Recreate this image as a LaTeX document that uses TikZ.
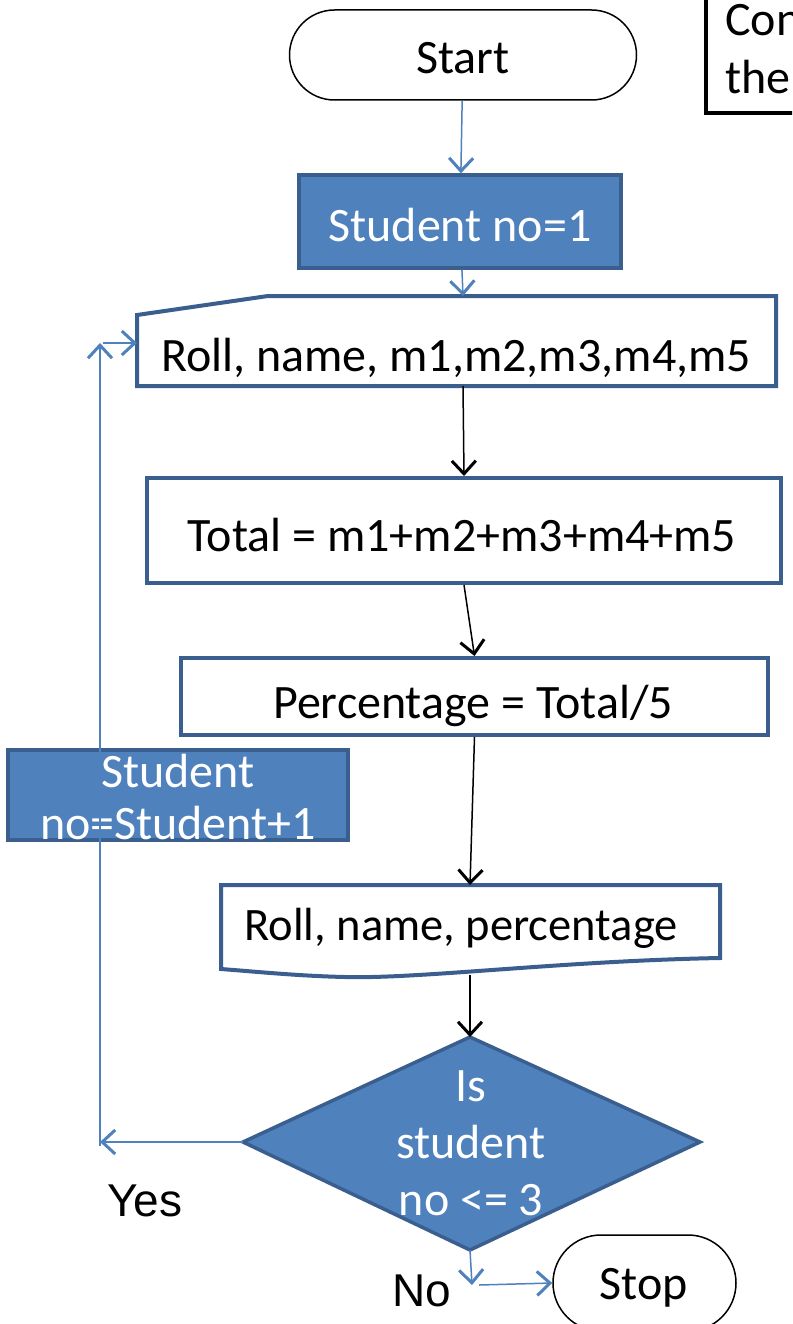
\documentclass[tikz,border=0pt]{standalone}
\usepackage{fontspec}
\setmainfont{Carlito}
\newfontfamily\arialfont{Liberation Sans}
\usetikzlibrary{arrows.meta,shapes.misc}
\definecolor{fillblue}{HTML}{4F81BD}
\definecolor{edgeblue}{HTML}{3A5F8E}
\definecolor{linkblue}{HTML}{4F81BD}
\begin{document}
\begin{tikzpicture}[x=1pt,y=-1pt,
  txt/.style={font=\fontsize{48}{57}\selectfont, inner sep=0pt, align=center, anchor=base},
  wtxt/.style={txt, text=white},
  terminal/.style={rounded rectangle, draw=black, line width=1.5pt, inner sep=0pt},
  plainbox/.style={draw=edgeblue, line width=4pt, fill=white, inner sep=0pt},
  bluebox/.style={draw=edgeblue, line width=3.5pt, fill=fillblue, inner sep=0pt},
  tipv/.style={-{Straight Barb[length=13pt,width=24pt,line width=3pt]}},
  bluelink/.style={tipv, draw=linkblue, line width=1.5pt},
  blacklink/.style={tipv, draw=black, line width=1.5pt},
  lbl/.style={font=\arialfont\fontsize{46}{50}\selectfont, inner sep=0pt, anchor=base}]
\clip (0,0) rectangle (792,1324);
\fill[white] (0,0) rectangle (792,1324);

% note box at the top right
\draw[black, line width=4pt] (706,-10) -- (706,113) -- (800,113);
\node[txt, anchor=base west] (noteA) at (725,36) {Con};
\node[txt, anchor=base west] (noteB) at (725,94) {the};

% start
\node[terminal, minimum width=347pt, minimum height=90pt] (start) at (463,55) {};
\node[txt] (startT) at (463,74) {Start};

% initialise counter
\node[bluebox, minimum width=322pt, minimum height=93pt] (init) at (460,221.5) {};
\node[wtxt] (initT) at (460,241) {Student no=1};

% manual input
\draw[plainbox] (137,315) -- (268,296) -- (776,296) -- (776,386) -- (137,386) -- cycle;
\node[txt] (inp) at (456,371) {Roll, name, m1,m2,m3,m4,m5};
\coordinate (inpN) at (463,296);
\coordinate (inpS) at (463,386);
\coordinate (inpW) at (137,343);

% processing
\node[plainbox, minimum width=634pt, minimum height=105pt] (tot) at (464,530.5) {};
\node[txt] (totT) at (462,551) {Total = m1+m2+m3+m4+m5};
\node[plainbox, minimum width=587pt, minimum height=77pt] (perc) at (474.5,696.5) {};
\node[txt] (percT) at (473,718) {Percentage = Total/5};

% output document
\draw[plainbox] (221,885) -- (720,885) -- (720,958)
  .. controls (560,961) and (420,979) .. (345,977)
  .. controls (300,976) and (260,972) .. (221,969) -- cycle;
\node[txt, font=\fontsize{46.5}{57}\selectfont] (doc) at (461,940) {Roll, name, percentage};
\coordinate (docN) at (470,885);
\coordinate (docS) at (470,975);

% decision
\draw[bluebox] (470,1037) -- (700,1142) -- (470,1250) -- (243,1142) -- cycle;
\node[wtxt, anchor=north] (dec) at (471,1070) {Is\\student\\no <= 3};
\coordinate (decN) at (470,1037);
\coordinate (decW) at (243,1142);
\coordinate (decS) at (470,1250);

% increment
\draw[bluebox] (8,750) rectangle (348,840);
\node[wtxt, anchor=north, font=\fontsize{48}{52}\selectfont] (inc) at (178,754) {Student\\no=Student+1};

% stop
\node[terminal, minimum width=183pt, minimum height=96pt] (stop) at (644.5,1283) {};
\node[txt] (stopT) at (644,1299) {Stop};

% connectors
\draw[bluelink] (start) -- (init);
\draw[bluelink] (init) -- (inpN);
\draw[blacklink] (inpS) -- (tot.north);
\draw[blacklink] (tot.south) -- (perc.north);
\draw[blacklink] (perc.south) -- (docN);
\draw[blacklink] (docS) -- (decN);

\coordinate (yesC) at (100,1142);
\coordinate (upC) at (100,343);
\draw[bluelink] (decW) -- (yesC);
\draw[draw=linkblue, line width=1.5pt] (yesC) -- (100,1146);
\draw[bluelink] (yesC) -- (upC);
\draw[bluelink] (103,343) -- (inpW);

\coordinate (noC) at (472,1285);
\draw[bluelink] (decS) -- (noC);
\draw[bluelink] (noC -| 479,0) -- (stop.west);

\node[lbl] (yes) at (145,1216) {Yes};
\node[lbl] (no) at (422,1306) {No};
\end{tikzpicture}
\end{document}
